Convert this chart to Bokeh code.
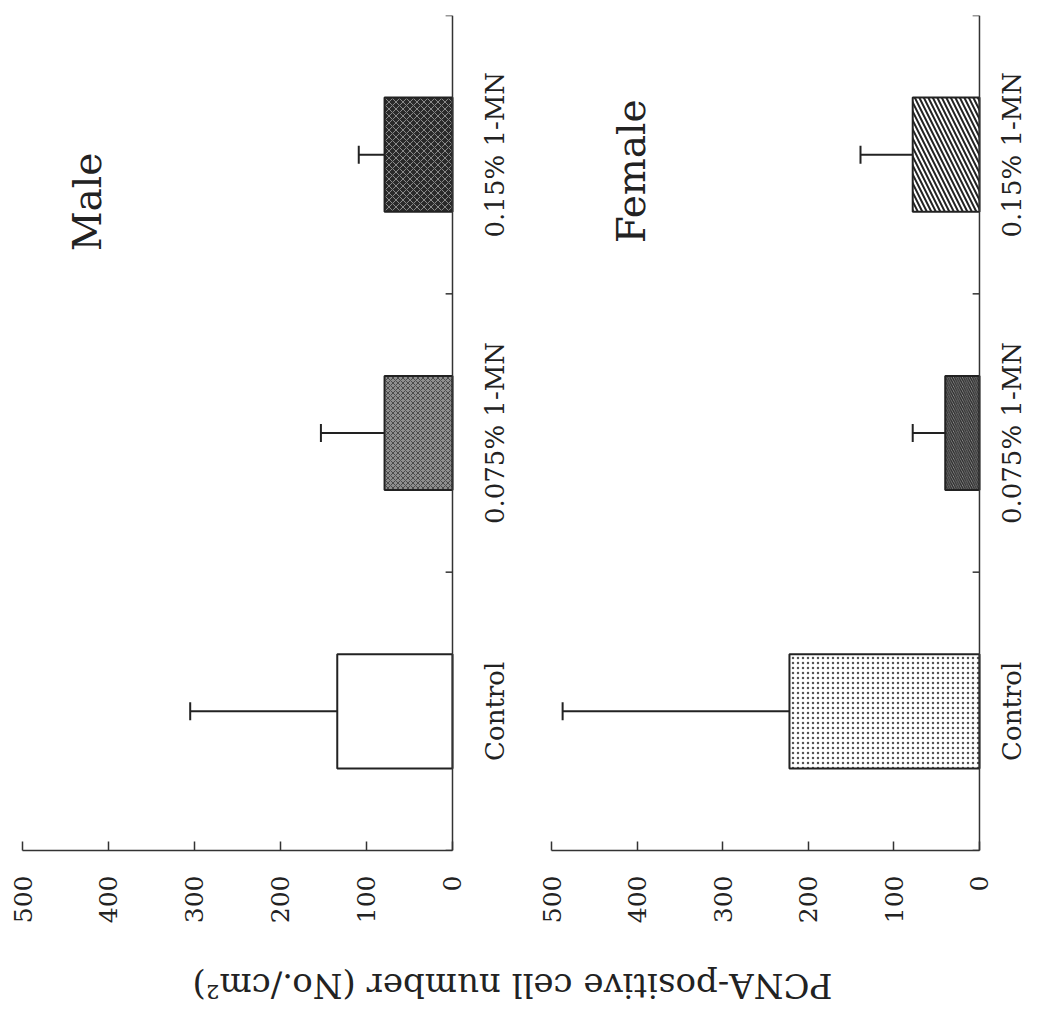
import math
from bokeh.plotting import figure
from bokeh.models import Range1d, FixedTicker, Whisker, TeeHead, ColumnDataSource, Label, Span
from bokeh.core.properties import value
from bokeh.layouts import column, row
from bokeh.embed import file_html
from bokeh.resources import INLINE

# ---- data ----
categories = ["Control", "0.075% 1-MN", "0.15% 1-MN"]
male_mean = [134, 79, 79]
male_sd = [171, 74, 30]
female_mean = [222, 40, 78]
female_sd = [265, 38, 61]
value_ticks = [0, 100, 200, 300, 400, 500]
axis_title = "PCNA-positive cell number (No./cm²)"

FONT = "DejaVu Serif"
INK = "#222222"
AXC = "#333333"

male_style = dict(
    fill=["#ffffff", "#8e8e8e", "#2a2a2a"],
    hatch=[" ", "x", "x"],
    hcolor=["#000000", "#4a4a4a", "#8a8a8a"],
    hscale=[6, 5, 7],
    hweight=[1, 1, 1],
)
female_style = dict(
    fill=["#ffffff", "#9a9a9a", "#ffffff"],
    hatch=[".", "\\", "\\"],
    hcolor=["#555555", "#2a2a2a", "#222222"],
    hscale=[5, 4.5, 9],
    hweight=[1, 1.4, 2],
)


def panel(label, mean, sd, style, width, left, x_end, title_x, title_y, cat_x, tick_len):
    centers = [i + 0.5 for i in range(len(categories))]
    bounds = list(range(len(categories) + 1))
    p = figure(width=width, height=950,
               x_range=Range1d(max(value_ticks), x_end), y_range=Range1d(0, len(categories)),
               output_backend="svg", toolbar_location=None,
               y_axis_location=None,
               min_border_left=left, min_border_right=0,
               min_border_top=15, min_border_bottom=100)
    p.grid.visible = False
    p.outline_line_color = None

    ax = p.xaxis[0]
    ax.ticker = FixedTicker(ticks=value_ticks)
    ax.bounds = (min(value_ticks), max(value_ticks))
    ax.major_tick_in = 9
    ax.major_tick_out = 0
    ax.minor_tick_line_color = None
    ax.major_label_orientation = math.pi / 2
    ax.major_label_standoff = 25
    ax.major_label_text_font = FONT
    ax.major_label_text_font_size = "25px"
    ax.major_label_text_color = INK
    ax.axis_line_color = AXC
    ax.axis_line_width = 1.5
    ax.major_tick_line_color = AXC
    ax.major_tick_line_width = 1.5

    # baseline (value 0) acting as the category axis
    p.add_layout(Span(location=0, dimension="height", line_color=AXC, line_width=1.5))
    p.segment(x0=[0] * len(bounds), x1=[tick_len] * len(bounds), y0=bounds, y1=bounds,
              line_color=AXC, line_width=1.5)

    src = ColumnDataSource(dict(
        y=centers, mean=mean, hi=[m + s for m, s in zip(mean, sd)],
        fill=style["fill"], hatch=style["hatch"], hcolor=style["hcolor"],
        hscale=style["hscale"], hweight=style["hweight"],
    ))
    p.hbar(y="y", left=0, right="mean", height=0.41, source=src,
           fill_color="fill", hatch_pattern="hatch", hatch_color="hcolor",
           hatch_scale="hscale", hatch_weight="hweight",
           line_color=INK, line_width=2)
    w = Whisker(source=src, base="y", lower="mean", upper="hi", dimension="width",
                line_color=INK, line_width=2,
                lower_head=None,
                upper_head=TeeHead(size=18, line_color=INK, line_width=2))
    p.add_layout(w)

    p.text(x=[cat_x] * len(categories), y=centers, text=categories, angle=math.pi / 2,
           text_font=value(FONT), text_font_size="26px", text_color=INK,
           text_align="center", text_baseline="middle")

    p.add_layout(Label(x=title_x, y=title_y, text=label, angle=math.pi / 2,
                       text_font=FONT, text_font_size="39px", text_color=INK,
                       text_align="center", text_baseline="middle"))
    return p


p1 = panel("Male", male_mean, male_sd, male_style, 530, 22, -90.7, 424, 2.33, -49, 8)
p2 = panel("Female", female_mean, female_sd, female_style, 500, 21, -59.6, 406, 2.44, -38, 8)

p3 = figure(width=1030, height=55, x_range=Range1d(0, 1030), y_range=Range1d(0, 55),
            output_backend="svg", toolbar_location=None,
            x_axis_location=None, y_axis_location=None, min_border=0)
p3.grid.visible = False
p3.outline_line_color = None
p3.add_layout(Label(x=512, y=20, text=axis_title, angle=math.pi,
                    text_font=FONT, text_font_size="34px", text_color=INK,
                    text_align="center", text_baseline="middle"))

layout = column(row(p1, p2), p3)
open("out.html", "w").write(file_html(layout, INLINE))
